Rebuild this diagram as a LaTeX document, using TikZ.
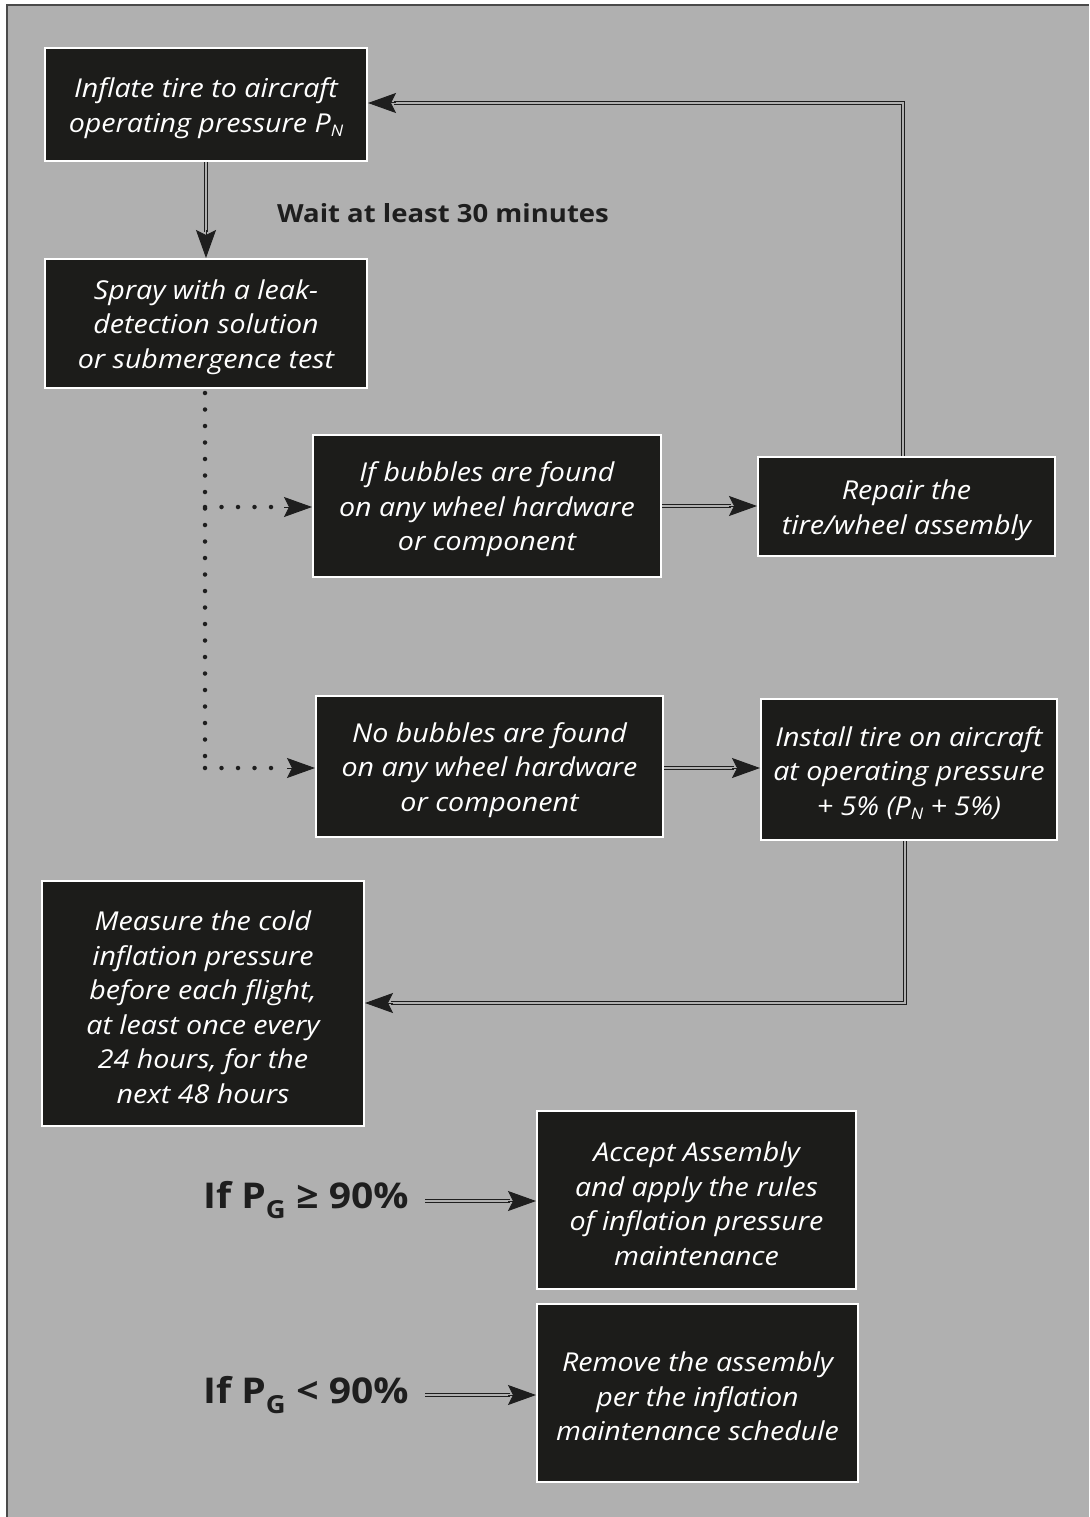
\documentclass[tikz,border=0pt]{standalone}
\usepackage{fontspec}
\setmainfont{Open Sans}[FakeStretch=1.1]
\usetikzlibrary{arrows.meta,calc}
\definecolor{bg}{HTML}{B0B0B0}
\definecolor{boxk}{HTML}{1C1C1A}
\definecolor{ink}{HTML}{1E1E1E}
\definecolor{framec}{HTML}{4A4A4A}
\newcommand{\lowsub}[1]{\raisebox{-4.5pt}{\fontsize{16}{16}\selectfont #1}}
\newcommand{\flowbox}[6]{%
  \node[box, minimum width=#4pt, minimum height=#5pt] (#1) at (#2,#3) {};
  \node[boxtext] (#1-t) at ([yshift=-3.5pt]#1.center) {#6};}
\begin{document}
\begin{tikzpicture}[x=1pt,y=-1pt,
  box/.style={draw=white, line width=2pt, fill=boxk, inner sep=0pt},
  boxtext/.style={text=white, align=center, inner sep=0pt,
    font=\itshape\fontsize{26}{34.5}\selectfont},
  dbl/.style={draw=ink, line width=1.4pt, double=bg, double distance=1.5pt},
  tipst/.style={draw=ink, line width=1pt, -{Stealth[length=28pt,width=20pt,inset=5pt]}},
  dotl/.style={draw=ink, line width=4.5pt, line cap=round, dash pattern=on 0pt off 16.5pt},
  lbl/.style={text=ink, font=\bfseries\fontsize{25}{28}\selectfont, inner sep=0pt},
  big/.style={text=ink, font=\bfseries\fontsize{35.5}{40}\selectfont, inner sep=0pt}
]
\useasboundingbox (0,0) rectangle (1089,1517);
\fill[white] (0,0) rectangle (1089,1517);
\fill[bg] (7,5) rectangle (1089,1517);
\draw[framec, line width=1.5pt] (7,1517) -- (7,5) -- (1089,5);

\flowbox{inflate}{206}{104.5}{322}{113}{Inflate tire to aircraft\\operating pressure P\lowsub{N}}
\flowbox{spray}{206}{323.5}{322}{129}{Spray with a leak-\\detection solution\\or submergence test}
\flowbox{bub}{487}{506}{348}{142}{If bubbles are found\\on any wheel hardware\\or component}
\flowbox{repair}{906.5}{506.5}{297}{99}{Repair the\\tire/wheel assembly}
\flowbox{nobub}{489.5}{766.5}{347}{141}{No bubbles are found\\on any wheel hardware\\or component}
\flowbox{install}{909}{769.5}{296}{141}{Install tire on aircraft\\at operating pressure\\+ 5\% (P\lowsub{N} + 5\%)}
\flowbox{measure}{203}{1003.5}{322}{245}{Measure the cold\\inflation pressure\\before each flight,\\at least once every\\24 hours, for the\\next 48 hours}
\flowbox{accept}{696.5}{1200}{319}{178}{Accept Assembly\\and apply the rules\\of inflation pressure\\maintenance}
\flowbox{remove}{697.5}{1393}{321}{178}{Remove the assembly\\per the inflation\\maintenance schedule}

\node[lbl] (wait) at (443,213) {Wait at least 30 minutes};
\node[big, anchor=west] (pg1) at (203,1200) {If P\textsubscript{G} ≥ 90\%};
\node[big, anchor=west] (pg2) at (203,1395) {If P\textsubscript{G} < 90\%};

% inflate -> spray
\draw[dbl] (inflate.south) -- ([yshift=26pt]spray.north);
\draw[tipst] ([yshift=28pt]spray.north) -- (spray.north);
% repair -> inflate
\coordinate (c1) at (903,103);
\draw[dbl] (repair.north -| c1) -- (c1) -- ([xshift=26pt]inflate.east |- c1);
\draw[tipst] ([xshift=28pt]inflate.east |- c1) -- (inflate.east |- c1);
% bub -> repair
\draw[dbl] (bub.east) -- ([xshift=-26pt]repair.west |- bub.east);
\draw[tipst] ([xshift=-28pt]repair.west |- bub.east) -- (repair.west |- bub.east);
% nobub -> install
\coordinate (c2) at (700,768);
\draw[dbl] (nobub.east |- c2) -- ([xshift=-26pt]install.west |- c2);
\draw[tipst] ([xshift=-28pt]install.west |- c2) -- (install.west |- c2);
% install -> measure
\coordinate (c3) at (905,1003);
\draw[dbl] (install.south -| c3) -- (c3) -- ([xshift=26pt]measure.east |- c3);
\draw[tipst] ([xshift=28pt]measure.east |- c3) -- (measure.east |- c3);
% pg -> boxes
\coordinate (c4) at (425,1201);
\coordinate (c5) at (425,1395);
\draw[dbl] (c4) -- ([xshift=-26pt]accept.west |- c4);
\draw[tipst] ([xshift=-28pt]accept.west |- c4) -- (accept.west |- c4);
\draw[dbl] (c5) -- ([xshift=-26pt]remove.west |- c5);
\draw[tipst] ([xshift=-28pt]remove.west |- c5) -- (remove.west |- c5);

% dotted
\coordinate (d0) at (205,393);
\coordinate (d1) at (205,507);
\coordinate (d2) at (205,768);
\draw[dotl] (d0) -- (d2);
\draw[dotl] (d1) -- ([xshift=-28pt]bub.west |- d1);
\draw[tipst] ([xshift=-28pt]bub.west |- d1) -- (bub.west |- d1);
\draw[dotl] (d2) -- ([xshift=-28pt]nobub.west |- d2);
\draw[tipst] ([xshift=-28pt]nobub.west |- d2) -- (nobub.west |- d2);
\end{tikzpicture}
\end{document}
